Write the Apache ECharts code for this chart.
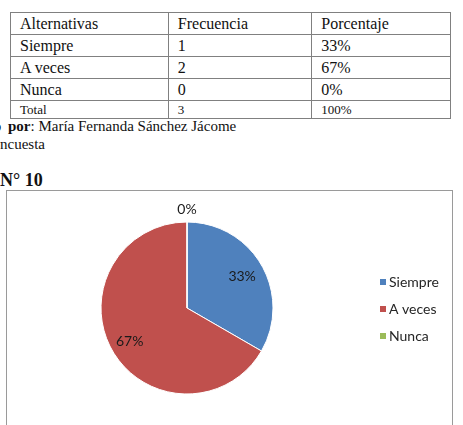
<!DOCTYPE html>
<html>
<head>
<meta charset="utf-8">
<script src="https://cdn.jsdelivr.net/npm/echarts@6/dist/echarts.min.js"></script>
<style>
  body { margin: 0; background: #fff; width: 463px; height: 425px; overflow: hidden; position: relative; font-family: "Liberation Serif", serif; color: #111; }
  table { position: absolute; left: 10px; top: 12px; border-collapse: collapse; width: 441px; }
  td { border: 1px solid #808080; padding: 0 0 0 9px; height: 21px; font-size: 16px; line-height: 20px; }
  tr.total td { font-size: 13px; height: 17px; line-height: 16px; }
  .txt { position: absolute; white-space: nowrap; font-size: 15px; }
  .pre { position: absolute; right: 100%; white-space: nowrap; }
  #chart { position: absolute; left: 6px; top: 190px; width: 445px; height: 240px; border: 1px solid #9a9a9a; }
</style>
</head>
<body>
<table id="tabla"></table>
<div class="txt" style="left:8px;top:118px;"><span class="pre" style="padding-right:3px;"><b>Elaborado&nbsp;</b></span><b>por</b>: María Fernanda Sánchez Jácome</div>
<div class="txt" style="left:0px;top:136px;"><span class="pre">Fuente: E</span>ncuesta</div>
<div class="txt" style="left:0px;top:170px;font-size:18px;font-weight:bold;"><span class="pre">Gráfico&nbsp;</span>N° 10</div>
<div id="chart"></div>
<script>
const encabezados = ["Alternativas", "Frecuencia", "Porcentaje"];
const categorias = ["Siempre", "A veces", "Nunca"];
const frecuencias = [1, 2, 0];
const porcentajes = ["33%", "67%", "0%"];
const total = ["Total", "3", "100%"];
const colores = ["#4F81BD", "#C0504D", "#9BBB59"];

// tabla
let html = "<tr>" + encabezados.map((h) => "<td>" + h + "</td>").join("") + "</tr>";
categorias.forEach((c, i) => {
  html += "<tr><td>" + c + "</td><td>" + frecuencias[i] + "</td><td>" + porcentajes[i] + "</td></tr>";
});
html += '<tr class="total">' + total.map((t) => "<td>" + t + "</td>").join("") + "</tr>";
document.getElementById("tabla").innerHTML = html;

// grafico
const cx = 180, cy = 117, radio = 86;
const labelRatio = [0.74, 0.77, 1.14];
const suma = frecuencias.reduce((a, b) => a + b, 0);

const chart = echarts.init(document.getElementById("chart"), null, { renderer: "canvas" });
chart.setOption({
  animation: false,
  color: colores,
  legend: {
    orient: "vertical",
    left: 366,
    top: 79,
    icon: "rect",
    itemWidth: 8,
    itemHeight: 8,
    itemGap: 13,
    textStyle: { fontFamily: "Lato", fontSize: 14, color: "#262626", padding: [0, 0, 0, -3] },
    data: categorias,
  },
  series: [
    {
      type: "pie",
      center: [cx, cy],
      radius: [0, radio],
      startAngle: 90,
      clockwise: true,
      data: categorias.map((c, i) => ({ name: c, value: frecuencias[i] })),
      itemStyle: { borderColor: "#fff", borderWidth: 1 },
      label: {
        show: true,
        position: "inside",
        formatter: (p) => porcentajes[p.dataIndex],
        fontFamily: "Lato",
        fontSize: 14,
        color: "#1a1a1a",
      },
      labelLine: { show: false },
      labelLayout: (params) => {
        const i = params.dataIndex;
        let antes = 0;
        for (let k = 0; k < i; k++) antes += frecuencias[k];
        const medio = ((antes + frecuencias[i] / 2) / suma) * Math.PI * 2;
        const r = radio * labelRatio[i];
        return {
          x: cx + r * Math.sin(medio),
          y: cy - r * Math.cos(medio),
          align: "center",
          verticalAlign: "middle",
        };
      },
    },
  ],
});
</script>
</body>
</html>
